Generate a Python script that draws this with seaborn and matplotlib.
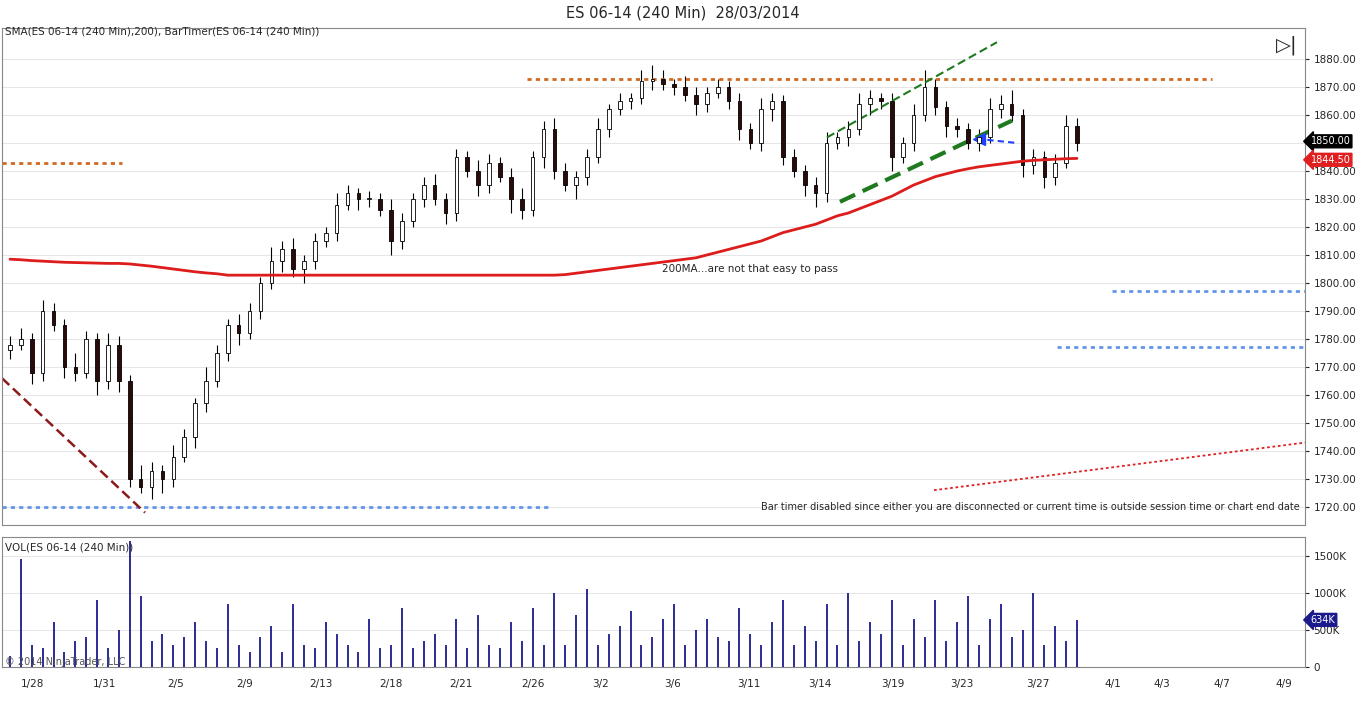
import numpy as np
import matplotlib
matplotlib.use("Agg")
import matplotlib.pyplot as plt
import seaborn as sns

sns.set_style("white")
plt.rcParams['font.family'] = ['DejaVu Sans']

closes = [1778,1780,1768,1790,1785,1770,1768,1780,1765,1778,
          1765,1730,1727,1733,1730,1738,1745,1757,1765,1775,
          1785,1782,1790,1800,1808,1812,1805,1808,1815,1818,
          1828,1832,1830,1830,1826,1815,1822,1830,1835,1830,
          1825,1845,1840,1835,1843,1838,1830,1826,1845,1855,
          1840,1835,1838,1845,1855,1862,1865,1866,1872,1873,
          1871,1870,1867,1864,1868,1870,1865,1855,1850,1862,
          1865,1845,1840,1835,1832,1850,1852,1855,1864,1866,
          1865,1845,1850,1860,1870,1863,1856,1855,1850,1852,
          1862,1864,1860,1842,1845,1838,1843,1856,1850]
first_open = 1776
wick_hi = [3,4,2,4,3,2,5,3,2,4, 3,2,5,3,2,4,3,2,5,3, 2,4,3,2,5,3,4,2,3,2,
           4,3,2,3,2,4,3,2,3,4, 2,3,2,4,3,2,3,4,2,3, 4,3,2,3,4,2,3,2,4,5,
           3,2,4,3,2,3,2,3,2,4, 3,2,3,2,3,4,2,3,4,3, 2,3,2,4,6,3,2,3,2,3,
           4,3,5,2,3,2,3,4,3]
wick_lo = [3,2,4,3,2,4,3,2,5,3, 4,3,2,4,5,3,2,4,3,2, 3,4,2,3,2,4,3,5,3,2,
           3,2,4,3,2,5,3,2,3,2, 4,3,2,4,3,2,5,3,2,4, 3,2,5,3,2,3,2,3,2,3,
           2,3,2,4,3,2,3,4,2,3, 4,3,2,4,5,3,2,3,2,4, 3,5,2,3,2,3,4,3,2,3,
           2,3,2,4,3,4,3,2,3]
sma = [1808.5,1808.3,1808,1807.8,1807.6,1807.4,1807.3,1807.2,1807.1,1807,1807,1806.8,
       1806.4,1806,1805.5,1805,1804.5,1804,1803.6,1803.3] + [1802.8]*31 + \
      [1803,1803.5,1804,1804.5,1805,1805.5,
       1806,1806.5,1807,1807.5,1808,1808.5,1809,1810,1811,1812,
       1813,1814,1815,1816.5,1818,1819,1820,1821,1822.5,
       1824,1825,1826.5,1828,1829.5,1831,1833,1835,1836.5,1838,
       1839,1840,1840.8,1841.5,1842,1842.5,1843,1843.5,1843.8,1844,1844.2,1844.4,1844.5]
volume = [150,1450,300,250,600,200,350,400,900,250,
          500,1700,950,350,450,300,400,600,350,250,
          850,300,200,400,550,200,850,300,250,600,
          450,300,200,650,250,300,800,250,350,450,
          300,650,250,700,300,250,600,350,800,300,
          1000,300,700,1050,300,450,550,750,300,400,
          650,850,300,500,650,400,350,800,450,300,
          600,900,300,550,350,850,300,1000,350,600,
          450,900,300,650,400,900,350,600,950,300,
          650,850,400,500,1000,300,550,350,634]
date_labels = ["1/28","1/31","2/5","2/9","2/13","2/18","2/21","2/26","3/2","3/6",
               "3/11","3/14","3/19","3/23","3/27","4/1","4/3","4/7","4/9"]
date_px = [30,102,174,243,319,389,459,531,599,671,747,818,891,960,1036,1111,1160,1220,1282]

n = len(closes)
opens = [first_open] + closes[:-1]
highs = [max(o, c) + w for o, c, w in zip(opens, closes, wick_hi)]
lows = [min(o, c) - w for o, c, w in zip(opens, closes, wick_lo)]
xs = np.linspace(8, 1075, n)

W, H = 1366, 713
fig = plt.figure(figsize=(W/100, H/100), dpi=100)
ax = fig.add_axes([2/W, 1-525/H, 1303/W, 497/H])
axv = fig.add_axes([2/W, 1-667/H, 1303/W, 130/H])

for a in (ax, axv):
    for s in a.spines.values():
        s.set_color("#888888"); s.set_linewidth(0.8)

ax.set_xlim(0, 1303); axv.set_xlim(0, 1303)
ax.set_ylim(1720 - 18/2.8, 1880 + 31/2.8)
yt = list(range(1720, 1881, 10))
ax.set_yticks(yt)
ax.set_yticklabels(["" if v == 1850 else f"{v:.2f}" for v in yt], fontsize=7.5)
ax.yaxis.tick_right()
ax.tick_params(axis='y', length=3, pad=3)
ax.set_xticks([])
ax.grid(axis='y', color="#e6e6e6", linewidth=0.7)
ax.set_axisbelow(True)

bw = 3.6
for x, o, h, l, c in zip(xs, opens, highs, lows, closes):
    ax.vlines(x, l, h, color="black", linewidth=0.8, zorder=2)
    up = c >= o
    ax.add_patch(plt.Rectangle((x - bw/2, min(o, c)), bw, max(abs(c - o), 0.4),
                               facecolor="white" if up else "#2b0a0a",
                               edgecolor="black", linewidth=0.6, zorder=3))
sns.lineplot(x=xs, y=sma, ax=ax, color="#dd1c1c", linewidth=2, zorder=4)

ax.hlines(1873, 525, 1210, colors="#d2691e", linestyles=(0, (1.5, 1.5)), linewidth=2)
ax.hlines(1843, 0, 120, colors="#d2691e", linestyles=(0, (1.5, 1.5)), linewidth=2)
ax.hlines(1720, 0, 548, colors="#6495ed", linestyles=(0, (1.5, 1.5)), linewidth=2)
ax.hlines(1797, 1110, 1303, colors="#6495ed", linestyles=(0, (1.5, 1.5)), linewidth=2)
ax.hlines(1777, 1055, 1303, colors="#6495ed", linestyles=(0, (1.5, 1.5)), linewidth=2)
ax.plot([932, 1303], [1726, 1743], color="#e02020", linestyle=(0, (1.5, 1.5)), linewidth=1.3)
ax.plot([0, 143], [1766, 1718], color="#8b1a1a", linestyle=(0, (4, 2)), linewidth=1.8)
ax.plot([825, 995], [1852, 1886], color="#1f7a1f", linestyle=(0, (4, 2)), linewidth=1.5)
ax.plot([838, 1010], [1829, 1858], color="#1f7a1f", linestyle=(0, (4, 2)), linewidth=3)
ax.plot([975, 1015], [1851.5, 1850], color="#2040ff", linestyle=(0, (3, 2)), linewidth=1.5)
ax.plot([977], [1851.5], marker="<", color="#2040ff", markersize=9)

ax.text(748, 1805, "200MA...are not that easy to pass", fontsize=7.5, ha="center", va="center")
ax.text(1298, 1720, "Bar timer disabled since either you are disconnected or current time is outside session time or chart end date",
        fontsize=7, ha="right", va="center")
ax.text(3, 1880 + 28/2.8, "SMA(ES 06-14 (240 Min),200), BarTimer(ES 06-14 (240 Min))", fontsize=7.5, va="center")
ax.text(1285, 1880 + 14/2.8, "\u25B7|", fontsize=14, ha="center", va="center")

def tag(a, y, txt, fc):
    a.annotate(txt, xy=(1.0, y), xycoords=('axes fraction', 'data'), xytext=(4, 0),
               textcoords='offset points', fontsize=7, color="white", va="center",
               bbox=dict(boxstyle="larrow,pad=0.15", fc=fc, ec=fc), annotation_clip=False)
tag(ax, 1850.6, "1850.00", "black")
tag(ax, 1844.0, "1844.50", "#e02020")

axv.vlines(xs, 0, volume, color="#1a1a8c", linewidth=1.3)
axv.set_ylim(0, 1750)
axv.yaxis.tick_right()
axv.set_yticks([0, 500, 1000, 1500])
axv.set_yticklabels(["0", "500K", "1000K", "1500K"], fontsize=7.5)
axv.tick_params(axis='y', length=3, pad=3)
axv.set_xticks(date_px)
axv.set_xticklabels(date_labels, fontsize=7.5)
axv.tick_params(axis='x', length=3, pad=6)
axv.grid(axis='y', color="#e6e6e6", linewidth=0.7)
axv.text(3, 1680, "VOL(ES 06-14 (240 Min))", fontsize=7.5, va="top")
axv.text(3, 0, "\u00a9 2014 NinjaTrader, LLC", fontsize=7, va="bottom", color="#555555")
tag(axv, 634, "634K", "#1a1a8c")

fig.text(0.5, 1-13/H, "ES 06-14 (240 Min)  28/03/2014", ha="center", va="center", fontsize=10.5)
fig.savefig("out.png", dpi=100, facecolor="white")
